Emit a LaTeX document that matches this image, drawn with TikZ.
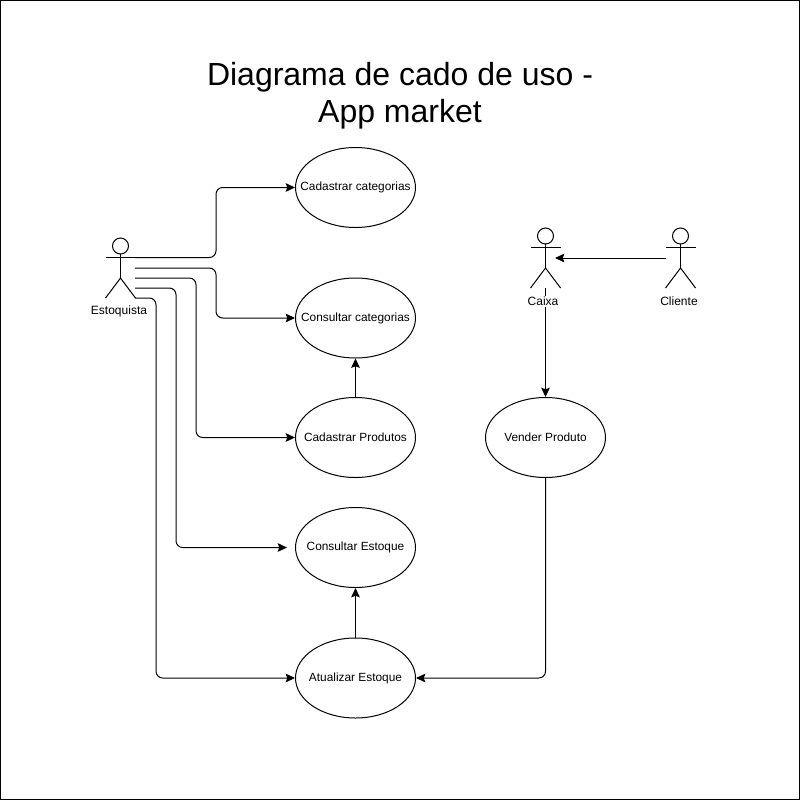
\documentclass[tikz,border=0pt]{standalone}
\usepackage{fontspec}
\setmainfont{Liberation Sans}
\usetikzlibrary{arrows.meta,shapes.geometric}
\tikzset{
  usecase/.style={ellipse,draw=black,line width=0.75pt,fill=white,minimum width=90pt,minimum height=60pt,inner sep=0pt},
  casetext/.style={inner sep=0pt,font=\fontsize{8.9}{11}\selectfont},
  actorlabel/.style={inner sep=1pt,fill=white,font=\fontsize{9}{11}\selectfont},
  stick/.style={draw=black,line width=0.75pt},
  conn/.style={draw=black,line width=0.75pt,rounded corners=5pt,-{Stealth[length=7pt,width=6.5pt,inset=1.2pt]}},
  titletext/.style={inner sep=0pt,align=center,font=\fontsize{24}{27.75}\selectfont}
}
\newcommand{\stickman}[2]{%
  \draw[stick] (#1,#2) circle (6pt);
  \draw[stick] (#1-15,#2+11.5) -- (#1+15,#2+11.5);
  \draw[stick] (#1,#2+8) -- (#1,#2+32);
  \draw[stick] (#1-15,#2+52) -- (#1,#2+32) -- (#1+15,#2+52);
}
\begin{document}
\begin{tikzpicture}[x=0.75pt,y=-0.75pt]
\useasboundingbox (0,0) rectangle (800,800);
\draw[black,line width=0.75pt,fill=white] (0.5,0.5) rectangle (799.5,799.5);
\node[titletext] (title) at (400,96) {Diagrama de cado de uso -\\App market};

\node[usecase,label={[casetext]center:Cadastrar categorias}] (cadcat) at (355.5,187.5) {};
\node[usecase,label={[casetext]center:Consultar categorias}] (concat) at (355.5,318) {};
\node[usecase,label={[casetext]center:Cadastrar Produtos}] (cadprod) at (355.5,437.5) {};
\node[usecase,label={[casetext]center:Consultar Estoque}] (conest) at (355.5,547.5) {};
\node[usecase,label={[casetext]center:Atualizar Estoque}] (atuest) at (355.5,678) {};
\node[usecase,label={[casetext]center:Vender Produto}] (vender) at (545.5,437.5) {};

\stickman{120.5}{246}
\stickman{545.5}{236}
\stickman{680.5}{236}

\coordinate (e1) at (135,257.5);
\coordinate (e2) at (135,268);
\coordinate (e3) at (135,278);
\coordinate (e4) at (135,288);
\coordinate (e5) at (135,298);
\coordinate (conestin) at (287,547.5);
\coordinate (caixafoot) at (545.5,288);
\coordinate (caixaside) at (555,258);
\coordinate (clienteside) at (665.5,258);

\draw[conn] (e1) -- (216,257.5) |- (cadcat.west);
\draw[conn] (e2) -- (216,268) |- (concat.west);
\draw[conn] (e3) -- (196,278) |- (cadprod.west);
\draw[conn] (e4) -- (176,288) |- (conestin);
\draw[conn] (e5) -- (156,298) |- (atuest.west);
\draw[conn] (cadprod.north) -- (concat.south);
\draw[conn] (atuest.north) -- (conest.south);
\draw[conn] (clienteside) -- (caixaside);
\draw[conn] (caixafoot) -- (vender.north);
\draw[conn] (vender.south) |- (atuest.east);

\node[actorlabel] (estoquista) at (119,311.5) {Estoquista};
\node[actorlabel] (caixa) at (543,301.5) {Caixa};
\node[actorlabel] (cliente) at (679,301.5) {Cliente};
\end{tikzpicture}
\end{document}
